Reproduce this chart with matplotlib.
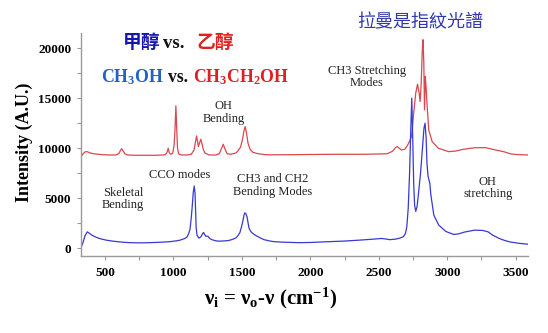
import matplotlib
matplotlib.use("Agg")
import matplotlib.pyplot as plt
from matplotlib.ticker import MultipleLocator

# ---------------- data ----------------
methanol_x = [325, 340, 355, 371, 390, 405, 430, 463, 510, 558, 620, 683, 750, 829, 900, 975,
              1020, 1048, 1080, 1099, 1112, 1121, 1130, 1138, 1145, 1152, 1158, 1162, 1166, 1172,
              1186, 1200, 1212, 1220, 1228, 1237, 1245, 1252, 1265, 1281, 1305, 1332, 1370, 1405,
              1430, 1456, 1470, 1486, 1498, 1508, 1515, 1521, 1530, 1538, 1546, 1553, 1565, 1575,
              1595, 1611, 1635, 1662, 1700, 1735, 1800, 1917, 2000, 2136, 2250, 2355, 2450, 2519,
              2550, 2581, 2620, 2654, 2680, 2695, 2705, 2715, 2725, 2733, 2741, 2748, 2755, 2762,
              2770, 2780, 2790, 2805, 2818, 2830, 2838, 2846, 2852, 2860, 2873, 2880, 2902, 2938,
              2990, 3047, 3080, 3130, 3200, 3260, 3300, 3330, 3380, 3420, 3456, 3520, 3588]
methanol_y = [100, 600, 1300, 1660, 1480, 1330, 1150, 980, 830, 730, 640, 580, 560, 580, 620, 680,
              760, 830, 980, 1130, 1500, 1900, 3000, 4300, 5600, 6230, 5500, 3800, 2100, 1350,
              1030, 1150, 1450, 1600, 1400, 1220, 1230, 1220, 1000, 880, 780, 730, 750, 800,
              900, 1050, 1250, 1600, 2200, 2800, 3300, 3560, 3450, 3150, 2500, 2000, 1700, 1550,
              1350, 1230, 1050, 880, 760, 680, 630, 580, 600, 680, 740, 830, 920, 1000,
              950, 880, 930, 1030, 1180, 1500, 2200, 4000, 7500, 11500, 15000, 11000, 6500, 4300,
              3700, 4200, 5500, 7500, 9800, 12000, 12500, 11000, 8500, 7200, 6500, 5400, 3330, 2330,
              1700, 1400, 1450, 1650, 1830, 1800, 1650, 1350, 1000, 800, 660, 520, 430]

ethanol_x = [325, 340, 355, 371, 390, 420, 463, 520, 580, 600, 612, 622, 632, 645, 665, 720, 800,
             880, 940, 952, 962, 970, 980, 995, 1005, 1012, 1018, 1024, 1030, 1038, 1060, 1100,
             1130, 1150, 1162, 1169, 1176, 1182, 1190, 1200, 1208, 1218, 1230, 1260, 1310, 1335,
             1352, 1364, 1376, 1392, 1420, 1460, 1490, 1505, 1515, 1524, 1533, 1545, 1560, 1580,
             1620, 1680, 1800, 2000, 2200, 2400, 2560, 2600, 2625, 2635, 2650, 2665, 2690, 2710,
             2725, 2740, 2755, 2770, 2783, 2795, 2802, 2810, 2818, 2823, 2829, 2834, 2840, 2846,
             2852, 2865, 2890, 2935, 2970, 3010, 3060, 3120, 3200, 3280, 3330, 3380, 3420, 3460,
             3500, 3588]
ethanol_y = [9160, 9450, 9640, 9660, 9530, 9450, 9380, 9330, 9330, 9450, 9750, 9960, 9750, 9450,
             9330, 9300, 9300, 9300, 9350, 9550, 10000, 9550, 9400, 9500, 10300, 12000, 14230, 12000,
             10000, 9450, 9330, 9330, 9400, 9800, 10700, 11230, 10700, 10160, 10500, 10900, 10500,
             9900, 9530, 9330, 9330, 9450, 10000, 10400, 9950, 9450, 9400, 9550, 10100, 10900,
             11700, 12160, 11600, 10500, 9900, 9600, 9450, 9350, 9350, 9380, 9400, 9400, 9450,
             9700, 10100, 10160, 10000, 9830, 9900, 10300, 10700, 11200, 13500, 15500, 16400,
             15500, 14660, 16500, 19800, 20830, 18500, 13830, 17160, 16000, 14500, 11830, 10660,
             10000, 9850, 9660, 9720, 9900, 10050, 10060, 9900, 9750, 9630, 9450, 9380, 9330]

x_ticks = [500, 1000, 1500, 2000, 2500, 3000, 3500]
y_ticks = [0, 5000, 10000, 15000, 20000]

# ---------------- style ----------------
plt.rcParams['mathtext.fontset'] = 'custom'
plt.rcParams['mathtext.rm'] = 'Liberation Serif:bold'
plt.rcParams['mathtext.it'] = 'Liberation Serif:italic:bold'
plt.rcParams['mathtext.bf'] = 'Liberation Serif:bold'

W, H = 548, 333
fig = plt.figure(figsize=(W / 100, H / 100), dpi=100)
ax = fig.add_axes([81 / W, 1 - 256 / H, (528 - 81) / W, (256 - 33) / H])

ax.plot(ethanol_x, ethanol_y, color='#d9474f', lw=0.9)
ax.plot(methanol_x, methanol_y, color='#3838d4', lw=0.9)

ax.set_xlim(325, 3590)
ax.set_ylim(-750, 21500)
ax.set_xticks(x_ticks)
ax.set_yticks(y_ticks)
ax.xaxis.set_minor_locator(MultipleLocator(250))
ax.yaxis.set_minor_locator(MultipleLocator(2500))

for s in ['top', 'right']:
    ax.spines[s].set_visible(False)
for s in ['left', 'bottom']:
    ax.spines[s].set_color('#9a9a9a')
    ax.spines[s].set_linewidth(1.0)
ax.tick_params(which='both', direction='out', color='#9a9a9a', length=3, width=0.8)
ax.tick_params(axis='x', pad=5)
ax.tick_params(axis='y', pad=4)
for lab in ax.get_xticklabels() + ax.get_yticklabels():
    lab.set_fontfamily('Liberation Serif')
    lab.set_fontweight('bold')
    lab.set_fontsize(9.5)

fig.text(24 / W, 1 - 142 / H, 'Intensity (A.U.)', rotation=90, ha='center', va='center',
         family='Liberation Serif', weight='bold', fontsize=13)
fig.text(271 / W, 1 - 298 / H,
         r'ν$_\mathregular{i}$ = ν$_\mathregular{o}$-ν (cm$^\mathregular{-1}$)',
         ha='center', va='center', family='Liberation Serif', weight='bold', fontsize=15)

# annotations
ann = dict(ha='center', va='center', family='Liberation Serif', fontsize=9,
           color='#222222', linespacing=1.05)
ax.text(631, 4930, 'Skeletal\nBending', **ann)
ax.text(1048, 7330, 'CCO modes', **ann)
ax.text(1726, 6280, 'CH3 and CH2\nBending Modes', **ann)
ax.text(1369, 13580, 'OH\nBending', **ann)
ax.text(2413, 17130, 'CH3 Stretching\nModes', **ann)
ax.text(3296, 6030, 'OH\nstretching', **ann)

# titles
cjk = ['Noto Sans CJK TC', 'DejaVu Sans']
fig.text(123 / W, 1 - 42 / H, '甲醇', ha='left', va='center', family=cjk, weight='bold',
         fontsize=13.5, color='#1515b0')
fig.text(163 / W, 1 - 43 / H, 'vs.', ha='left', va='center', family='Liberation Serif',
         weight='bold', fontsize=13.5, color='#111111')
fig.text(196 / W, 1 - 42 / H, '乙醇', ha='left', va='center', family=cjk, weight='bold',
         fontsize=13.5, color='#e02020')

fig.text(101 / W, 1 - 77 / H, r'CH$_\mathregular{3}$OH', ha='left', va='center',
         family='Liberation Serif', weight='bold', fontsize=12.8, color='#2062c6')
fig.text(168 / W, 1 - 77 / H, 'vs.', ha='left', va='center', family='Liberation Serif',
         weight='bold', fontsize=12.8, color='#111111')
fig.text(193 / W, 1 - 77 / H, r'CH$_\mathregular{3}$CH$_\mathregular{2}$OH', ha='left',
         va='center', family='Liberation Serif', weight='bold', fontsize=12.8, color='#e02020')

fig.text(420 / W, 1 - 22 / H, '拉曼是指紋光譜', ha='center', va='center', family=cjk,
         fontsize=13, color='#3038b0')

fig.savefig('out.png', dpi=100)
